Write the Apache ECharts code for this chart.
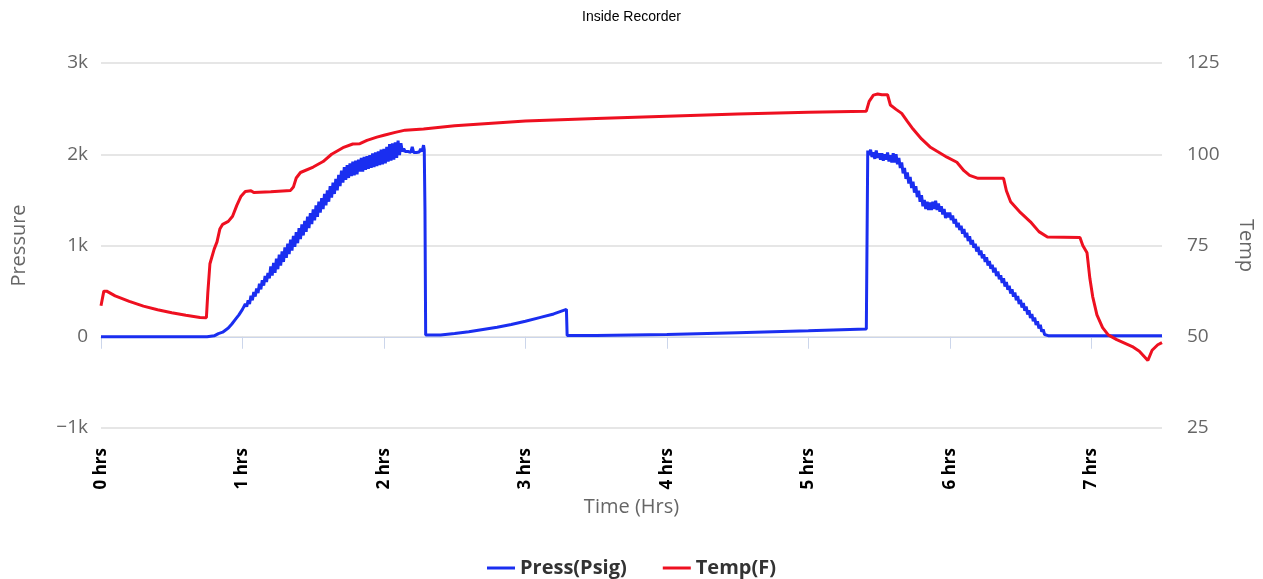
<!DOCTYPE html>
<html>
<head>
<meta charset="utf-8">
<script src="https://cdn.jsdelivr.net/npm/echarts@6/dist/echarts.min.js"></script>
<style>html,body{margin:0;padding:0;background:#fff;}#c{width:1263px;height:579px;}</style>
</head>
<body>
<div id="c"></div>
<script>
const xTicks = [0, 1, 2, 3, 4, 5, 6, 7];
const pressHrs = [0, 0.5, 0.75, 0.8, 0.83, 0.86, 0.9, 0.925, 0.95, 0.975,
  1.00, 1.01, 1.02, 1.03, 1.04, 1.05, 1.06, 1.07, 1.08, 1.09,
  1.10, 1.11, 1.12, 1.13, 1.14, 1.15, 1.16, 1.17, 1.18, 1.19,
  1.20, 1.21, 1.22, 1.23, 1.24, 1.25, 1.26, 1.27, 1.28, 1.29,
  1.30, 1.31, 1.32, 1.33, 1.34, 1.35, 1.36, 1.37, 1.38, 1.39,
  1.40, 1.41, 1.42, 1.43, 1.44, 1.45, 1.46, 1.47, 1.48, 1.49,
  1.50, 1.51, 1.52, 1.53, 1.54, 1.55, 1.56, 1.57, 1.58, 1.59,
  1.60, 1.61, 1.62, 1.63, 1.64, 1.65, 1.66, 1.67, 1.68, 1.69,
  1.70, 1.71, 1.72, 1.73, 1.74, 1.75, 1.76, 1.77, 1.78, 1.79,
  1.80, 1.81, 1.82, 1.83, 1.84, 1.85, 1.86, 1.87, 1.88, 1.89,
  1.90, 1.91, 1.92, 1.93, 1.94, 1.95, 1.96, 1.97, 1.98, 1.99,
  2.00, 2.01, 2.02, 2.03, 2.04, 2.05, 2.06, 2.07, 2.08, 2.09,
  2.10, 2.11, 2.12, 2.13, 2.14, 2.15, 2.16, 2.17, 2.18, 2.19,
  2.20, 2.21, 2.22, 2.23, 2.24, 2.25, 2.26, 2.27, 2.28, 2.285, 2.29, 2.295,
  2.4, 2.5, 2.6, 2.7, 2.8, 2.9, 3.0, 3.1, 3.2, 3.29, 3.295, 3.5, 4.0, 4.5, 5.0, 5.41,
  5.42, 5.43, 5.44, 5.45, 5.46, 5.47, 5.48, 5.49, 5.50, 5.51, 5.52, 5.53, 5.54, 5.55, 5.56, 5.57, 5.58, 5.59,
  5.60, 5.61, 5.62, 5.63, 5.64, 5.65, 5.66, 5.67, 5.68, 5.69, 5.70, 5.71, 5.72, 5.73, 5.74, 5.75, 5.76, 5.77, 5.78, 5.79,
  5.80, 5.81, 5.82, 5.83, 5.84, 5.85, 5.86, 5.87, 5.88, 5.89, 5.90, 5.91, 5.92, 5.93, 5.94, 5.95, 5.96, 5.97, 5.98, 5.99,
  6.00, 6.01, 6.02, 6.03, 6.04, 6.05, 6.06, 6.07, 6.08, 6.09, 6.10, 6.11, 6.12, 6.13, 6.14, 6.15, 6.16, 6.17, 6.18, 6.19,
  6.20, 6.21, 6.22, 6.23, 6.24, 6.25, 6.26, 6.27, 6.28, 6.29, 6.30, 6.31, 6.32, 6.33, 6.34, 6.35, 6.36, 6.37, 6.38, 6.39,
  6.40, 6.41, 6.42, 6.43, 6.44, 6.45, 6.46, 6.47, 6.48, 6.49, 6.50, 6.51, 6.52, 6.53, 6.54, 6.55, 6.56, 6.57, 6.58, 6.59,
  6.60, 6.61, 6.62, 6.63, 6.64, 6.65, 6.66, 6.67, 6.68, 6.70, 7.5];
const pressVals = [0, 0, 0, 10, 35, 50, 95, 140, 190, 240,
  300, 280, 360, 330, 400, 360, 450, 400, 490, 440,
  530, 480, 580, 520, 620, 560, 665, 600, 700, 640,
  770, 670, 810, 700, 855, 740, 900, 780, 935, 820,
  980, 865, 1020, 905, 1065, 945, 1105, 985, 1145, 1025,
  1190, 1070, 1230, 1110, 1270, 1150, 1315, 1190, 1355, 1235,
  1395, 1275, 1440, 1315, 1480, 1360, 1520, 1400, 1565, 1440,
  1605, 1480, 1650, 1525, 1690, 1565, 1730, 1605, 1775, 1650,
  1820, 1690, 1860, 1720, 1880, 1740, 1900, 1760, 1920, 1770,
  1930, 1780, 1940, 1810, 1960, 1810, 1970, 1830, 1980, 1840,
  1990, 1850, 2010, 1860, 2020, 1870, 2030, 1880, 2050, 1890,
  2060, 1900, 2080, 1920, 2110, 1930, 2120, 1940, 2130, 1960,
  2150, 1990, 2120, 2030, 2060, 2030, 2050, 2030, 2040, 2020,
  2080, 2020, 2030, 2020, 2030, 2025, 2060, 2030, 2100, 2050, 1400, 20,
  20, 35, 55, 80, 105, 135, 170, 210, 250, 300, 15, 15, 25, 45, 65, 85,
  2040, 1990, 2050, 1970, 2020, 1950, 2040, 1960, 2010, 1940, 2010, 1930, 2000, 1940, 2020, 1920, 1990, 1910,
  2010, 1910, 2000, 1890, 1960, 1850, 1910, 1790, 1850, 1730, 1800, 1680, 1750, 1630, 1700, 1580, 1650, 1530, 1600, 1480,
  1550, 1430, 1500, 1400, 1480, 1390, 1470, 1390, 1480, 1400, 1490, 1390, 1460, 1370, 1430, 1340, 1400, 1300, 1360, 1310,
  1360, 1280, 1330, 1240, 1290, 1200, 1250, 1170, 1215, 1130, 1180, 1090, 1140, 1050, 1100, 1010, 1060, 975, 1020, 935,
  985, 895, 945, 860, 905, 820, 870, 780, 830, 745, 790, 705, 755, 665, 715, 630, 675, 590, 640, 550,
  600, 515, 560, 475, 520, 440, 485, 400, 445, 360, 405, 320, 370, 285, 330, 245, 290, 205, 250, 170,
  210, 130, 170, 90, 130, 55, 80, 25, 20, 10, 10];
const tempHrs = [0, 0.02, 0.04, 0.1, 0.2, 0.3, 0.4, 0.5, 0.6, 0.7, 0.745, 0.755, 0.77, 0.8, 0.82, 0.84, 0.86, 0.9, 0.93, 0.96,
  0.99, 1.02, 1.06, 1.08, 1.2, 1.34, 1.36, 1.38, 1.41, 1.5, 1.57, 1.63, 1.71, 1.78, 1.83, 1.88, 1.95, 2.0, 2.08, 2.15, 2.28,
  2.5, 3.0, 3.5, 4.0, 4.5, 5.0, 5.41, 5.43, 5.46, 5.49, 5.52, 5.56, 5.58, 5.62, 5.66, 5.7, 5.74, 5.8, 5.86, 5.91, 5.98, 6.05,
  6.1, 6.14, 6.2, 6.38, 6.4, 6.43, 6.5, 6.57, 6.63, 6.69, 6.92, 6.94, 6.97, 6.99, 7.01, 7.04, 7.08, 7.12, 7.18, 7.29, 7.34,
  7.4, 7.43, 7.47, 7.5];
const tempVals = [58.5, 62.5, 62.5, 61.2, 59.7, 58.4, 57.4, 56.6, 55.9, 55.3, 55.2, 62, 70, 74, 76, 79.5, 80.8, 81.6, 83, 86,
  88.5, 89.8, 90, 89.5, 89.7, 90.1, 91, 93.5, 95, 96.5, 98, 100, 101.8, 102.8, 102.9, 103.8, 104.7, 105.2, 106, 106.6, 106.9,
  107.8, 109.1, 109.8, 110.4, 111, 111.5, 111.8, 114.5, 116.2, 116.5, 116.3, 116.3, 113.5, 112.3, 111.2, 109, 106.9, 104.2, 102, 100.8, 99.2, 97.8,
  95.5, 94.2, 93.4, 93.4, 90, 87, 84, 81.5, 78.8, 77.3, 77.2, 75, 73, 66, 61, 56, 52.5, 50.5, 49.2, 47.3, 46,
  43.5, 46.3, 47.8, 48.4];

const pressData = pressHrs.map((h, i) => [h, pressVals[i]]);
const tempData = tempHrs.map((h, i) => [h, tempVals[i]]);

const chart = echarts.init(document.getElementById('c'), null, {renderer: 'canvas'});
const FONT = '"Open Sans", "DejaVu Sans", sans-serif';
chart.setOption({
  animation: false,
  backgroundColor: '#ffffff',
  title: {
    text: 'Inside Recorder', left: 'center', top: 5,
    textStyle: {fontFamily: '"Liberation Sans", Arial, sans-serif', fontSize: 14, fontWeight: 'normal', color: '#000'}
  },
  legend: {
    top: 553, left: 'center', itemWidth: 28, itemHeight: 3, itemGap: 36, icon: 'rect',
    textStyle: {fontFamily: FONT, fontSize: 20, fontWeight: 'bold', color: '#333'},
    data: ['Press(Psig)', 'Temp(F)']
  },
  grid: {left: 101, right: 101, top: 63, bottom: 151, containLabel: false, outerBoundsMode: 'none'},
  xAxis: {
    type: 'value', min: 0, max: 7.5, interval: 1,
    name: 'Time (Hrs)', nameLocation: 'middle', nameGap: 66,
    nameTextStyle: {fontFamily: FONT, fontSize: 20, color: '#666'},
    axisLine: {show: true, lineStyle: {color: '#ccd6eb', width: 1}},
    axisTick: {show: true, length: 12, lineStyle: {color: '#ccd6eb'}, customValues: xTicks},
    axisLabel: {rotate: 90, margin: 20, fontFamily: FONT, fontSize: 17, fontWeight: 'bold', color: '#000',
      customValues: xTicks, formatter: v => v + ' hrs'},
    splitLine: {show: false}
  },
  yAxis: [{
    type: 'value', min: -1000, max: 3000, interval: 1000,
    name: 'Pressure', nameLocation: 'middle', nameGap: 72,
    nameTextStyle: {fontFamily: FONT, fontSize: 20, color: '#666'},
    axisLine: {show: false}, axisTick: {show: false},
    axisLabel: {margin: 13, fontFamily: FONT, fontSize: 19, color: '#666',
      formatter: v => v === 0 ? '0' : (v < 0 ? '\u2212' : '') + Math.abs(v) / 1000 + 'k'},
    splitLine: {show: true, lineStyle: {color: '#e6e6e6', width: 2}}
  }, {
    type: 'value', min: 25, max: 125, interval: 25, position: 'right',
    name: 'Temp', nameLocation: 'middle', nameGap: 74, nameRotate: -90,
    nameTextStyle: {fontFamily: FONT, fontSize: 20, color: '#666'},
    axisLine: {show: false}, axisTick: {show: false},
    axisLabel: {margin: 25, fontFamily: FONT, fontSize: 19, color: '#666'},
    splitLine: {show: false}
  }],
  series: [{
    name: 'Press(Psig)', type: 'line', yAxisIndex: 0, data: pressData,
    symbol: 'none', showSymbol: false,
    lineStyle: {color: '#1a2ef0', width: 3}, itemStyle: {color: '#1a2ef0'}
  }, {
    name: 'Temp(F)', type: 'line', yAxisIndex: 1, data: tempData,
    symbol: 'none', showSymbol: false,
    lineStyle: {color: '#ee1020', width: 3}, itemStyle: {color: '#ee1020'}
  }]
});
</script>
</body>
</html>
